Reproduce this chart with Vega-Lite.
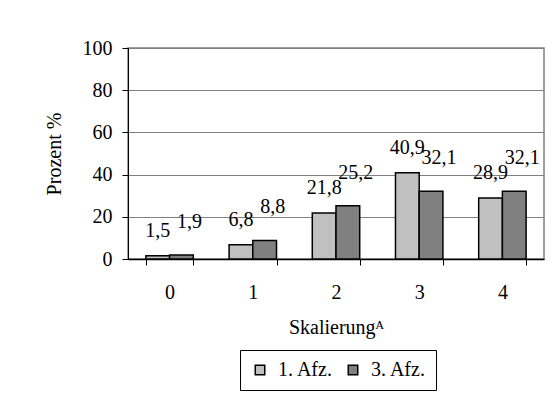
{
  "$schema": "https://vega.github.io/schema/vega-lite/v6.json",
  "width": 416,
  "height": 211,
  "autosize": "none",
  "padding": {"left": 128, "top": 48, "right": 16, "bottom": 135},
  "background": "white",
  "config": {
    "locale": {"number": {"decimal": ",", "thousands": ".", "grouping": [3], "currency": ["", " €"]}},
    "font": "Liberation Serif",
    "view": {"stroke": "#808080", "strokeWidth": 1.5},
    "axis": {
      "labelFont": "Liberation Serif",
      "titleFont": "Liberation Serif",
      "labelFontSize": 20,
      "titleFontSize": 20,
      "titleFontWeight": "normal",
      "labelColor": "black",
      "titleColor": "black",
      "domainColor": "black",
      "tickColor": "black",
      "tickSize": 6
    },
    "legend": {
      "labelFont": "Liberation Serif",
      "labelFontSize": 20,
      "labelColor": "black"
    }
  },
  "data": {
    "values": [
      {"skala": "0", "serie": "1. Afz.", "wert": 1.5},
      {"skala": "0", "serie": "3. Afz.", "wert": 1.9},
      {"skala": "1", "serie": "1. Afz.", "wert": 6.8},
      {"skala": "1", "serie": "3. Afz.", "wert": 8.8},
      {"skala": "2", "serie": "1. Afz.", "wert": 21.8},
      {"skala": "2", "serie": "3. Afz.", "wert": 25.2},
      {"skala": "3", "serie": "1. Afz.", "wert": 40.9},
      {"skala": "3", "serie": "3. Afz.", "wert": 32.1},
      {"skala": "4", "serie": "1. Afz.", "wert": 28.9},
      {"skala": "4", "serie": "3. Afz.", "wert": 32.1}
    ]
  },
  "encoding": {
    "x": {
      "field": "skala",
      "type": "nominal",
      "scale": {"paddingInner": 0.43, "paddingOuter": 0.215},
      "axis": {
        "labelAngle": 0,
        "tickBand": "extent",
        "domainWidth": 1.5,
        "labelPadding": 17,
        "title": "Skalierungᴬ",
        "titlePadding": 15,
        "grid": false
      }
    },
    "xOffset": {"field": "serie", "type": "nominal", "sort": ["1. Afz.", "3. Afz."]},
    "y": {
      "field": "wert",
      "type": "quantitative",
      "scale": {"domain": [0, 100]},
      "axis": {
        "values": [0, 20, 40, 60, 80, 100],
        "grid": true,
        "gridColor": "#808080",
        "gridWidth": 1,
        "domainWidth": 1,
        "labelPadding": 10,
        "title": "Prozent %",
        "titlePadding": 18
      }
    }
  },
  "layer": [
    {
      "mark": {"type": "bar", "stroke": "black", "strokeWidth": 1.5},
      "encoding": {
        "color": {
          "field": "serie",
          "type": "nominal",
          "scale": {"domain": ["1. Afz.", "3. Afz."], "range": ["#C0C0C0", "#808080"]},
          "legend": {
            "title": null,
            "orient": "none",
            "direction": "horizontal",
            "legendX": 112,
            "legendY": 302,
            "strokeColor": "black",
            "fillColor": "white",
            "padding": 10,
            "symbolType": "square",
            "symbolSize": 90,
            "symbolStrokeColor": "black",
            "symbolStrokeWidth": 1.5,
            "labelOffset": 8,
            "columnPadding": 10
          }
        }
      }
    },
    {
      "transform": [{"filter": "datum.serie === '1. Afz.'"}],
      "mark": {"type": "text", "baseline": "alphabetic", "dy": -19, "fontSize": 20, "font": "Liberation Serif", "color": "black"},
      "encoding": {"text": {"field": "wert", "type": "quantitative", "format": ".1f"}}
    },
    {
      "transform": [{"filter": "datum.serie === '3. Afz.'"}],
      "mark": {"type": "text", "baseline": "alphabetic", "dy": -27, "dx": 8, "fontSize": 20, "font": "Liberation Serif", "color": "black"},
      "encoding": {"text": {"field": "wert", "type": "quantitative", "format": ".1f"}}
    }
  ]
}
